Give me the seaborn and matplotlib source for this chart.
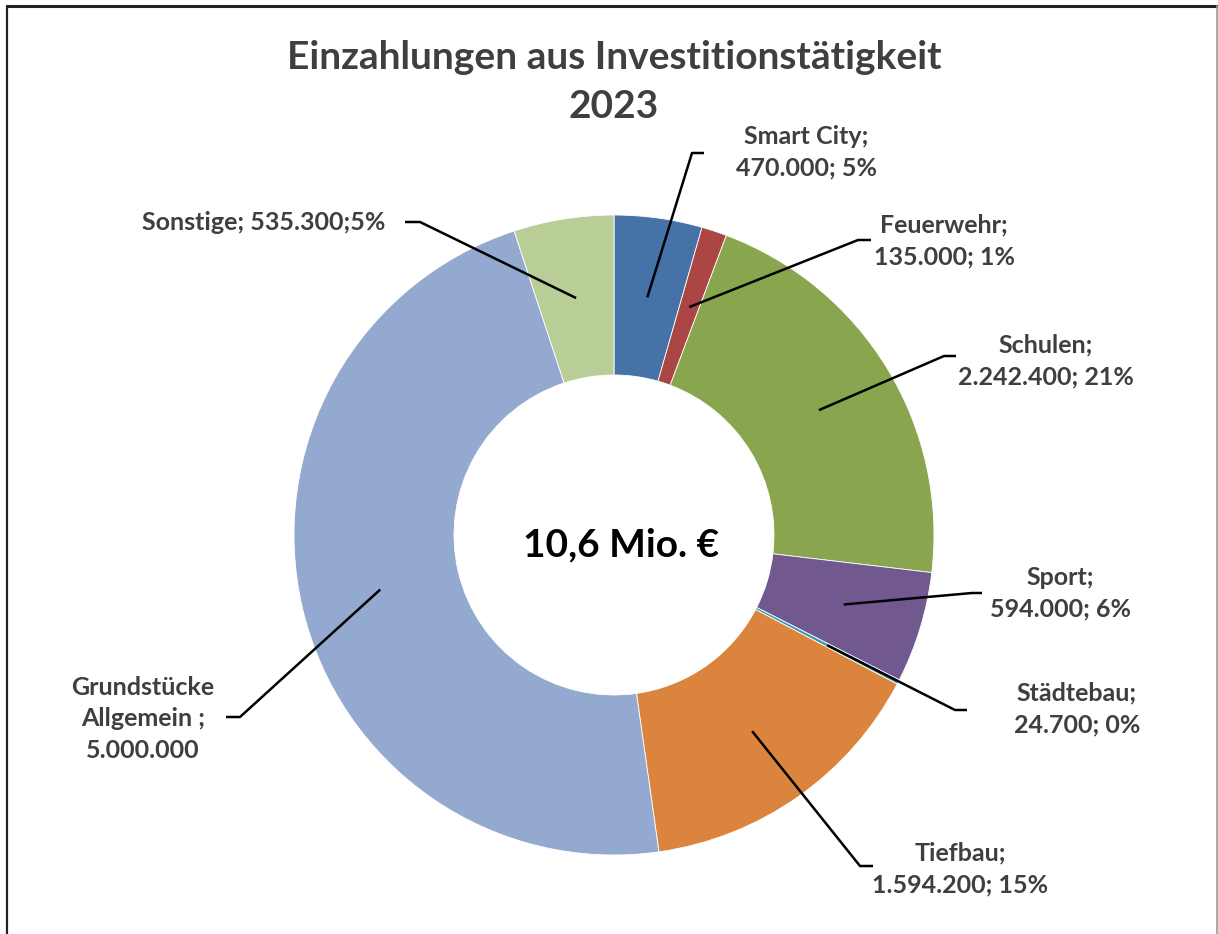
import matplotlib
matplotlib.use("Agg")
import matplotlib.pyplot as plt
from matplotlib.lines import Line2D
import numpy as np
import seaborn as sns

# ---- data ----
categories = ["Smart City", "Feuerwehr", "Schulen", "Sport", "Städtebau",
              "Tiefbau", "Grundstücke Allgemein", "Sonstige"]
values = [470000, 135000, 2242400, 594000, 24700, 1594200, 5000000, 535300]
label_texts = [
    "Smart City;\n470.000; 5%",
    "Feuerwehr;\n135.000; 1%",
    "Schulen;\n2.242.400; 21%",
    "Sport;\n594.000; 6%",
    "Städtebau;\n24.700; 0%",
    "Tiefbau;\n1.594.200; 15%",
    "Grundstücke\nAllgemein ;\n5.000.000",
    "Sonstige; 535.300;5%",
]
colors = ["#4572A7", "#AA4643", "#89A54E", "#71588F", "#4198AF",
          "#DB843D", "#93A9CF", "#B9CD96"]
title_text = "Einzahlungen aus Investitionstätigkeit\n2023"
center_text = "10,6 Mio. €"

# ---- layout (pixels in the 1218x934 canvas) ----
W, H = 1218, 934
CX, CY, R = 614, 535, 320
# label block centers, elbow points, and horizontal end points
label_pos = [(806, 152), (944, 241), (1046, 361), (1060, 593), (1077, 709),
             (960, 869), (143, 719), (264, 222)]
elbow_pos = [(692, 153), (858, 240), (944, 356), (972, 593), (955, 710),
             (860, 866), (240, 717), (420, 222)]
end_pos = [(704, 153), (871, 240), (956, 356), (982, 593), (967, 710),
           (873, 866), (226, 717), (405, 222)]


def px(p):
    return ((p[0] - CX) / R, (CY - p[1]) / R)


sns.set_theme(style="white")
plt.rcParams["font.family"] = ["Lato", "DejaVu Sans"]

fig = plt.figure(figsize=(W / 100, H / 100), dpi=100)
fig.patch.set_facecolor("white")
ax = fig.add_axes([0, 0, 1, 1])

wedges, _ = ax.pie(values, colors=colors, startangle=90, counterclock=False,
                   radius=1.0, wedgeprops=dict(width=0.5, edgecolor="white",
                                               linewidth=0.6))
ax.set_xlim(-CX / R, (W - CX) / R)
ax.set_ylim((CY - H) / R, CY / R)
ax.set_aspect("auto")
ax.axis("off")

total = float(np.sum(values))
cum = 0.0
for i, v in enumerate(values):
    mid = 90 - 360 * (cum + v / 2) / total
    cum += v
    ang = np.deg2rad(mid)
    ax0 = 0.75 * np.cos(ang)
    ay0 = 0.75 * np.sin(ang)
    ex, ey = px(elbow_pos[i])
    tx, ty = px(end_pos[i])
    ax.plot([ax0, ex, tx], [ay0, ey, ty], color="black", lw=1.8,
            solid_capstyle="butt", zorder=5)
    lx, ly = px(label_pos[i])
    ax.text(lx, ly, label_texts[i], ha="center", va="center",
            fontsize=18, fontweight="bold", color="#3f3f3f",
            linespacing=1.43, zorder=6)

ax.text(*px((621, 545)), center_text, ha="center", va="center",
        fontsize=28, fontweight="bold", color="black")

fig.text(614 / W, 1 - 82 / H, title_text, ha="center", va="center",
         fontsize=28, fontweight="bold", color="#3f3f3f", linespacing=1.5)

# chart frame
fig.add_artist(Line2D([7 / W, 1217 / W], [1 - 6 / H, 1 - 6 / H],
                      transform=fig.transFigure, color="#222222", lw=2.2))
fig.add_artist(Line2D([7 / W, 7 / W], [0, 1 - 6 / H],
                      transform=fig.transFigure, color="#222222", lw=1.6))
fig.add_artist(Line2D([1216.5 / W, 1216.5 / W], [0, 1 - 6 / H],
                      transform=fig.transFigure, color="#9a9a9a", lw=1.2))

fig.savefig("out.png", dpi=100, facecolor="white")
